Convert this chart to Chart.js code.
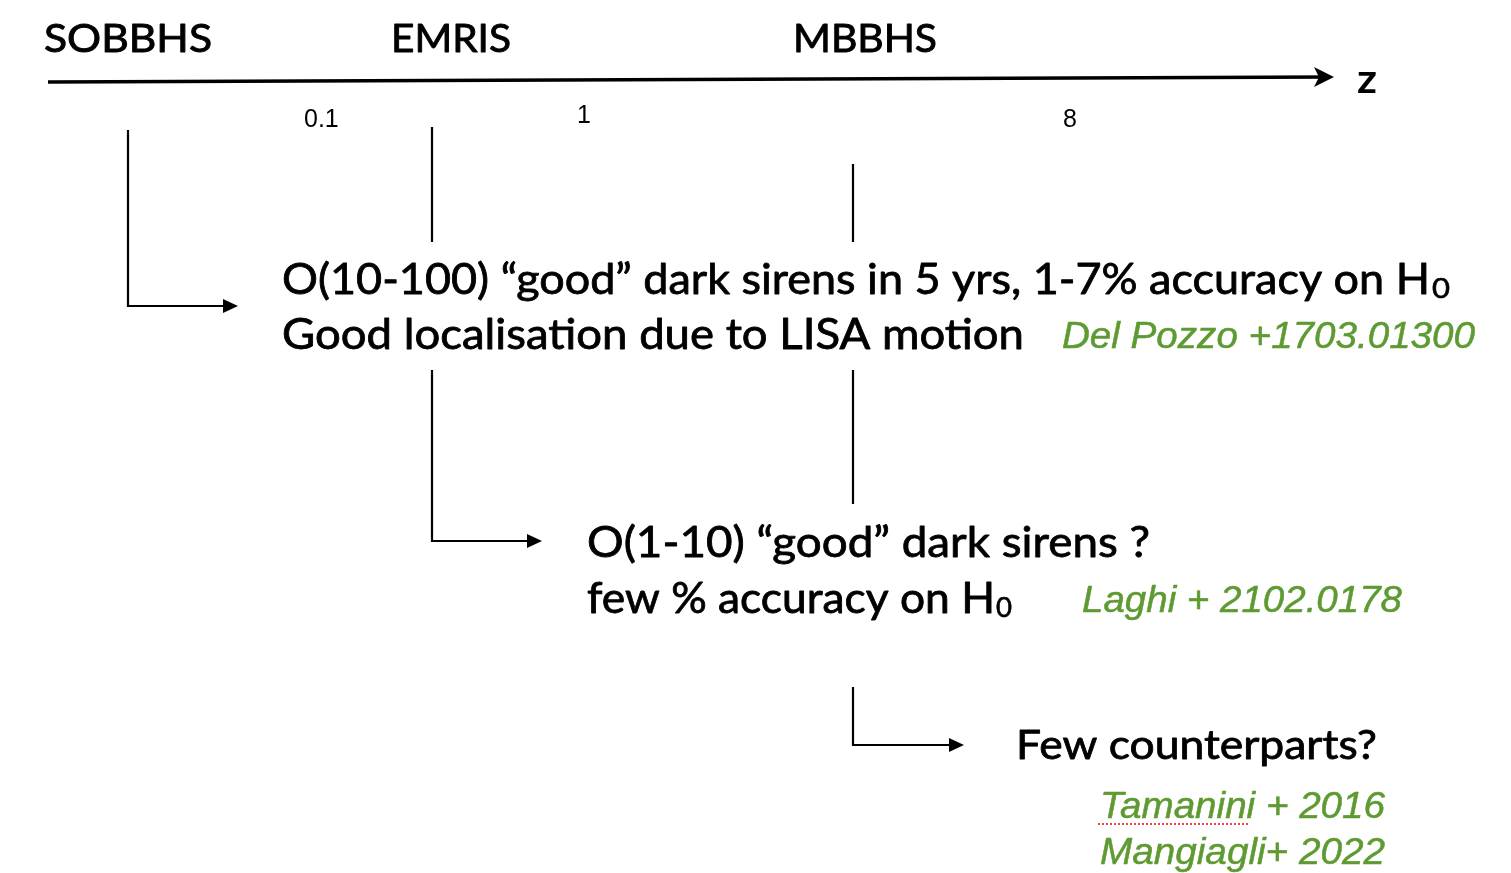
<!DOCTYPE html>
<html>
<head>
<meta charset="utf-8">
<script src="https://cdn.jsdelivr.net/npm/chart.js@4.4.1/dist/chart.umd.min.js"></script>
<style>
  html, body { margin: 0; padding: 0; background: #fff; }
  #wrap { width: 1511px; height: 873px; }
</style>
</head>
<body>
<div id="wrap"><canvas id="diagram" width="1511" height="873"></canvas></div>
<script>
// source populations along the redshift axis
const sourceNames = ['SOBBHS', 'EMRIS', 'MBBHS'];
const redshiftTicks = ['0.1', '1', '8'];
const axisLabel = 'z';

// findings (subscript "0" of H0 is drawn separately)
const findingLines = [
    'O(10-100) \u201cgood\u201d dark sirens in 5 yrs, 1-7% accuracy on H',
    'Good localisation due to LISA motion',
    'O(1-10) \u201cgood\u201d dark sirens ?',
    'few % accuracy on H',
    'Few counterparts?'
];
const findingSubs = ['0', '', '', '0', ''];
const references = ['Del Pozzo +1703.01300', 'Laghi + 2102.0178', 'Tamanini + 2016', 'Mangiagli+ 2022'];

// layout (diagram pixels)
const W = 1511, H = 873;
const GREEN = 'rgb(94,154,50)';
const sourcePos = [{ x: 44, w: 168, b: 52 }, { x: 391, w: 120, b: 52 }, { x: 793, w: 144, b: 52 }];
const tickPos = [{ x: 304, b: 127 }, { x: 577, b: 123 }, { x: 1063, b: 127 }];
const findingPos = [
    { x: 282, w: 1148, b: 294, size: 42, sub: { x: 1432, w: 18, b: 298 } },
    { x: 282, w: 742, b: 349, size: 42 },
    { x: 587, w: 563, b: 557, size: 42 },
    { x: 587, w: 408, b: 613, size: 42, sub: { x: 996, w: 16, b: 617 } },
    { x: 1016, w: 361, b: 759, size: 40 }
];
const refPos = [
    { x: 1062, w: 413, b: 348 },
    { x: 1082, w: 320, b: 612 },
    { x: 1100, w: 285, b: 818, underline: { x0: 1098, x1: 1250, y: 824 } },
    { x: 1100, w: 285, b: 864 }
];

const axisLine = [{ x: 48, y: 82 }, { x: 1330, y: 77 }];
const connectors = [
    { pts: [{ x: 128, y: 130 }, { x: 128, y: 306 }, { x: 234, y: 306 }], arrow: true },
    { pts: [{ x: 432, y: 127 }, { x: 432, y: 242 }] },
    { pts: [{ x: 853, y: 164 }, { x: 853, y: 242 }] },
    { pts: [{ x: 432, y: 370 }, { x: 432, y: 541 }, { x: 538, y: 541 }], arrow: true },
    { pts: [{ x: 853, y: 370 }, { x: 853, y: 504 }] },
    { pts: [{ x: 853, y: 687 }, { x: 853, y: 745 }, { x: 960, y: 745 }], arrow: true }
];

const datasets = [{
    data: axisLine, showLine: true, borderColor: '#000', borderWidth: 3.5,
    pointRadius: 0, arrow: true, arrowLen: 20, arrowHalf: 10, notch: 0.75
}].concat(connectors.map(c => ({
    data: c.pts, showLine: true, borderColor: '#000', borderWidth: 2.2,
    pointRadius: 0, arrow: !!c.arrow, arrowLen: 15, arrowHalf: 7, notch: 1
})));

function fitText(ctx, text, x, base, w, font, weight) {
    ctx.save();
    ctx.font = font;
    const m = ctx.measureText(text).width;
    ctx.translate(x, base);
    ctx.scale(w / m, 1);
    ctx.fillText(text, 0, 0);
    if (weight) {
        ctx.lineWidth = weight;
        ctx.strokeStyle = ctx.fillStyle;
        ctx.lineJoin = 'round';
        ctx.strokeText(text, 0, 0);
    }
    ctx.restore();
}

const diagramPlugin = {
    id: 'diagram',
    afterDatasetsDraw(chart) {
        const ctx = chart.ctx, sx = chart.scales.x, sy = chart.scales.y;
        const px = v => sx.getPixelForValue(v), py = v => sy.getPixelForValue(v);
        // arrowheads
        chart.data.datasets.forEach(ds => {
            if (!ds.arrow) return;
            const n = ds.data.length;
            const a = ds.data[n - 2], b = ds.data[n - 1];
            const x1 = px(b.x), y1 = py(b.y), x0 = px(a.x), y0 = py(a.y);
            const ang = Math.atan2(y1 - y0, x1 - x0);
            ctx.save();
            ctx.translate(x1, y1);
            ctx.rotate(ang);
            ctx.fillStyle = '#000';
            ctx.beginPath();
            ctx.moveTo(4, 0);
            ctx.lineTo(4 - ds.arrowLen, -ds.arrowHalf);
            ctx.lineTo(4 - ds.arrowLen * ds.notch, 0);
            ctx.lineTo(4 - ds.arrowLen, ds.arrowHalf);
            ctx.closePath();
            ctx.fill();
            ctx.restore();
        });

        ctx.save();
        ctx.textBaseline = 'alphabetic';
        ctx.fillStyle = '#000';
        sourceNames.forEach((s, i) => {
            const p = sourcePos[i];
            fitText(ctx, s, px(p.x), py(p.b), p.w, '39px Lato', 0.9);
        });
        ctx.font = '25px "Liberation Sans"';
        redshiftTicks.forEach((t, i) => {
            const p = tickPos[i];
            ctx.fillText(t, px(p.x), py(p.b));
        });
        fitText(ctx, axisLabel, px(1357), py(93), 20, 'bold 40px Lato');

        findingLines.forEach((t, i) => {
            const p = findingPos[i];
            fitText(ctx, t, px(p.x), py(p.b), p.w, p.size + 'px Lato', 0.8);
            if (findingSubs[i] && p.sub) {
                fitText(ctx, findingSubs[i], px(p.sub.x), py(p.sub.b), p.sub.w, '26px Lato', 0.6);
            }
        });

        ctx.fillStyle = GREEN;
        references.forEach((t, i) => {
            const p = refPos[i];
            fitText(ctx, t, px(p.x), py(p.b), p.w, 'italic 36px "Liberation Sans"', 0.5);
            if (p.underline) {
                ctx.save();
                ctx.strokeStyle = 'rgb(232,70,70)';
                ctx.lineWidth = 2;
                ctx.setLineDash([2, 2]);
                ctx.beginPath();
                ctx.moveTo(px(p.underline.x0), py(p.underline.y));
                ctx.lineTo(px(p.underline.x1), py(p.underline.y));
                ctx.stroke();
                ctx.restore();
            }
        });
        ctx.restore();
    }
};

new Chart(document.getElementById('diagram').getContext('2d'), {
    type: 'scatter',
    data: { datasets: datasets },
    options: {
        responsive: false,
        animation: false,
        devicePixelRatio: 1,
        layout: { padding: 0 },
        elements: { line: { tension: 0, borderCapStyle: 'butt', borderJoinStyle: 'miter' } },
        plugins: { legend: { display: false }, tooltip: { enabled: false } },
        scales: {
            x: { type: 'linear', min: 0, max: W, display: false },
            y: { type: 'linear', min: 0, max: H, reverse: true, display: false }
        }
    },
    plugins: [diagramPlugin]
});
</script>
</body>
</html>
